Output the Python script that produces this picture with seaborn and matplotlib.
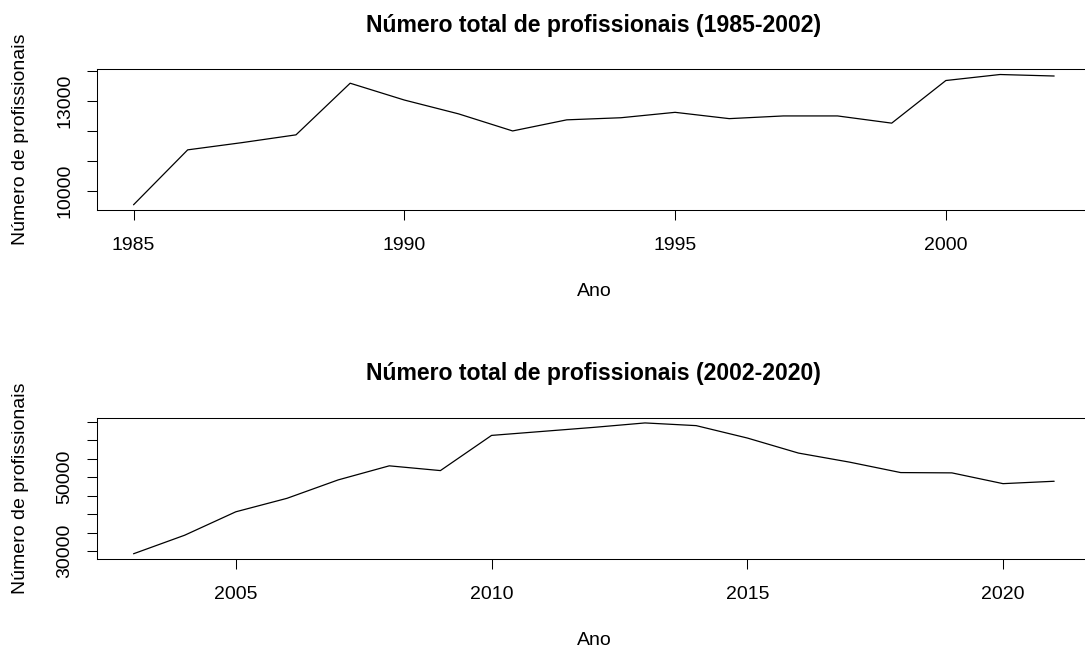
import numpy as np
import pandas as pd
import matplotlib
matplotlib.use("Agg")
import matplotlib.pyplot as plt
import seaborn as sns

# ---- data ----
anos1 = [1985, 1986, 1987, 1988, 1989, 1990, 1991, 1992, 1993,
         1994, 1995, 1996, 1997, 1998, 1999, 2000, 2001, 2002]
prof1 = [9530, 11360, 11600, 11860, 13580, 13020, 12560, 11990, 12360,
         12430, 12610, 12400, 12490, 12490, 12250, 13670, 13870, 13820]

anos2 = [2003, 2004, 2005, 2006, 2007, 2008, 2009, 2010, 2011, 2012,
         2013, 2014, 2015, 2016, 2017, 2018, 2019, 2020, 2021]
prof2 = [29250, 34280, 40630, 44280, 49270, 53090, 51800, 61340, 62430, 63520,
         64720, 63990, 60630, 56550, 54090, 51260, 51180, 48260, 48910]

xticks1 = [1985, 1990, 1995, 2000]
xticks2 = [2005, 2010, 2015, 2020]
yticks1 = [10000, 11000, 12000, 13000, 14000]
ylabels1 = ["10000", "", "", "13000", ""]
yticks2 = [30000, 35000, 40000, 45000, 50000, 55000, 60000, 65000]
ylabels2 = ["30000", "", "", "", "50000", "", "", ""]

titulo1 = "Número total de profissionais (1985-2002)"
titulo2 = "Número total de profissionais (2002-2020)"
xlab = "Ano"
ylab = "Número de profissionais"

# ---- style ----
sns.set_theme(style="ticks")
plt.rcParams["font.family"] = ["Liberation Sans", "DejaVu Sans"]
plt.rcParams["text.color"] = "black"
plt.rcParams["axes.labelcolor"] = "black"
plt.rcParams["xtick.color"] = "black"
plt.rcParams["ytick.color"] = "black"

W, H = 1085, 648
fig = plt.figure(figsize=(W / 100, H / 100), dpi=100)
left_px, right_px = 96.7, 1091
ax1 = fig.add_axes([left_px / W, 1 - 210 / H, (right_px - left_px) / W, (210 - 69.3) / H])
ax2 = fig.add_axes([left_px / W, 1 - 559 / H, (right_px - left_px) / W, (559 - 417.7) / H])

panels = [
    (ax1, anos1, prof1, xticks1, yticks1, ylabels1, titulo1),
    (ax2, anos2, prof2, xticks2, yticks2, ylabels2, titulo2),
]

for ax, x, y, xt, yt, yl, tt in panels:
    df = pd.DataFrame({"ano": x, "prof": y})
    sns.lineplot(data=df, x="ano", y="prof", ax=ax, color="black", linewidth=0.9)
    ax.margins(x=0.04, y=0.04)
    ax.set_xticks(xt)
    ax.set_xticklabels([str(v) for v in xt])
    ax.set_yticks(yt)
    ax.set_yticklabels(yl)
    ax.tick_params(axis="both", length=7.5, width=0.75, labelsize=14, colors="black")
    ax.tick_params(axis="x", pad=12)
    ax.tick_params(axis="y", pad=9.5)
    for lab in ax.get_yticklabels():
        lab.set_rotation(90)
        lab.set_va("center")
    for s in ax.spines.values():
        s.set_visible(True)
        s.set_linewidth(0.75)
        s.set_color("black")
    ax.set_title(tt, fontsize=16.6, fontweight="bold", pad=27)
    ax.set_xlabel(xlab, fontsize=14)
    ax.set_ylabel(ylab, fontsize=14)
    hpx = ax.get_position().height * H
    ax.xaxis.set_label_coords(0.5, -73.3 / hpx)
    ax.xaxis.label.set_va("top")
    ax.yaxis.set_label_coords((20.8 - left_px) / (right_px - left_px), 0.5)
    ax.yaxis.label.set_va("center")
    ax.grid(False)

fig.savefig("out.png", dpi=100)
